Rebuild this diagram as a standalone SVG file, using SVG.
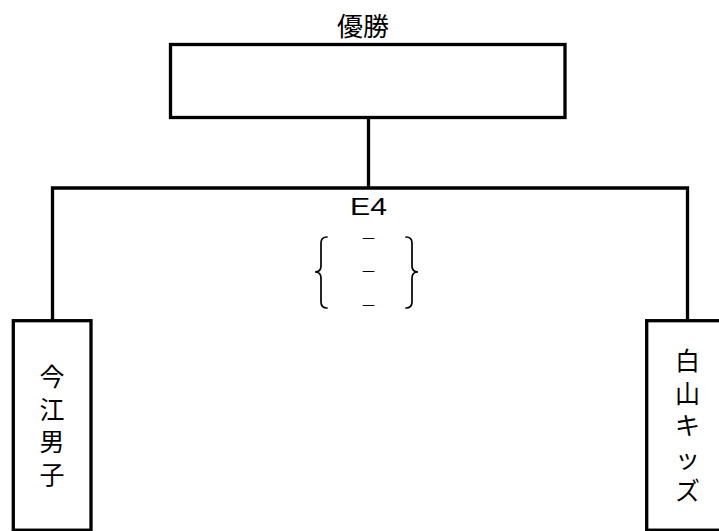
<svg xmlns="http://www.w3.org/2000/svg" width="719" height="531" viewBox="0 0 719 531">
<style>
.box{fill:#fff;stroke:#000;stroke-width:3.3}
.wire{fill:none;stroke:#000;stroke-width:3.3}
.brace{fill:none;stroke:#000;stroke-width:1.7;stroke-linecap:round}
.jp{font-family:"Noto Sans CJK JP","Liberation Sans",sans-serif;fill:#000}
</style>
<rect width="719" height="531" fill="#fff"/>
<g id="connectors">
<line class="wire" x1="368.5" y1="118" x2="368.5" y2="188"/>
<polyline class="wire" points="52.5,321 52.5,188 687.5,188 687.5,321"/>
</g>
<g id="final">
<text class="jp" x="363" y="36" font-size="26" text-anchor="middle">優勝</text>
<rect class="box" x="170.5" y="44.5" width="394.5" height="73"/>
</g>
<g id="match-E4">
<text x="350" y="215" font-family="Liberation Sans, sans-serif" font-size="23.5" textLength="37" lengthAdjust="spacingAndGlyphs">E4</text>
<path class="brace" d="M327,237 Q321,237 321,243 L321,266 Q321,272 315,272 Q321,272 321,278 L321,302 Q321,308 327,308"/>
<path class="brace" d="M406,237 Q412,237 412,243 L412,266 Q412,272 418,272 Q412,272 412,278 L412,302 Q412,308 406,308"/>
<text class="jp" x="368.5" y="244" font-size="16" text-anchor="middle">－</text>
<text class="jp" x="368.5" y="277" font-size="16" text-anchor="middle">－</text>
<text class="jp" x="368.5" y="311" font-size="16" text-anchor="middle">－</text>
</g>
<g id="team-imae">
<rect class="box" x="13.3" y="320.7" width="77.7" height="209.5"/>
<text class="jp" font-size="25" text-anchor="middle"><tspan x="52" y="386">今</tspan><tspan x="52" y="418.5">江</tspan><tspan x="52" y="451">男</tspan><tspan x="52" y="483.5">子</tspan></text>
</g>
<g id="team-hakusan">
<rect class="box" x="646.7" y="320.7" width="78" height="209.5"/>
<text class="jp" font-size="25" text-anchor="middle"><tspan x="687.5" y="370">白</tspan><tspan x="687.5" y="402.5">山</tspan><tspan x="687.5" y="435">キ</tspan><tspan x="687.5" y="467.5">ッ</tspan><tspan x="687.5" y="500">ズ</tspan></text>
</g>
</svg>
